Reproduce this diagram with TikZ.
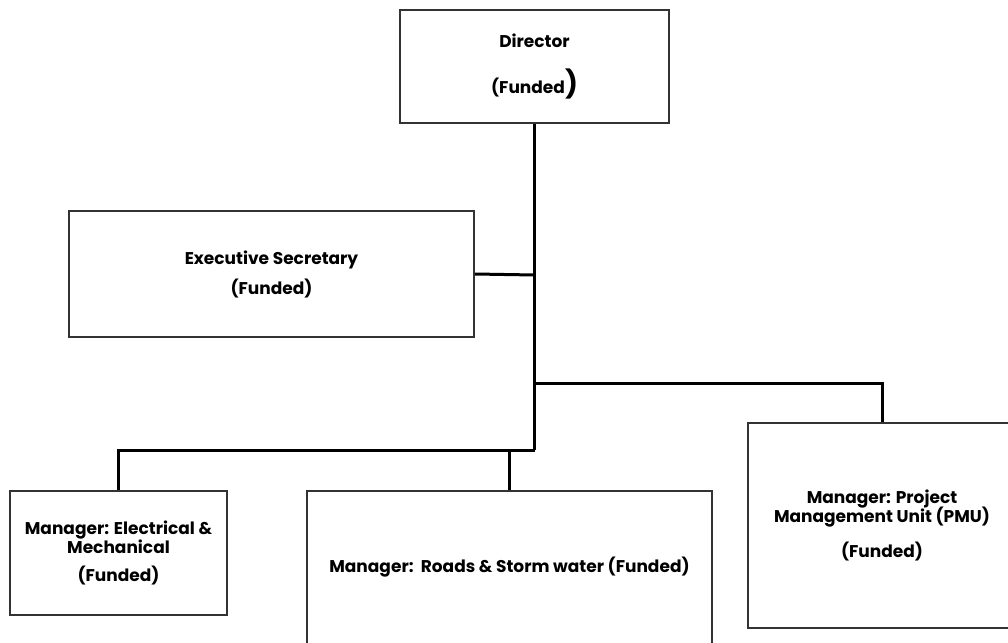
\documentclass[tikz,border=0pt]{standalone}
\usepackage{fontspec}
\setmainfont{Poppins}
\begin{document}
\begin{tikzpicture}[x=1pt,y=-1pt,
  post/.style={draw=black!80, line width=1.6pt, fill=white, rectangle,
    inner sep=0pt, align=center, font=\fontsize{17}{19}\selectfont\bfseries},
  wire/.style={draw=black, line width=3pt}]
\useasboundingbox (0,0) rectangle (1008,642);

% positions
\node[post, minimum width=269pt, minimum height=113pt] (dir) at (534.5,66.5)
  {Director\\[21pt](Funded{\fontsize{27}{27}\selectfont)}};
\node[post, minimum width=405pt, minimum height=126pt] (sec) at (271.5,274)
  {Executive Secretary\\[9pt](Funded)};
\node[post, minimum width=217pt, minimum height=124pt] (ele) at (118.5,553)
  {Manager: Electrical \&\\Mechanical\\[9pt](Funded)};
\node[post, minimum width=405pt, minimum height=153pt] (road) at (509.5,567.5)
  {Manager:\ \ Roads \& Storm water (Funded)};
\node[post, minimum width=268pt, minimum height=205pt] (pmu) at (882,525.5)
  {Manager: Project\\[-2pt]Management Unit (PMU)\\[14pt](Funded)};

% junctions on the spine
\coordinate (j1) at (534.5,275);
\coordinate (j2) at (534.5,383);
\coordinate (j3) at (534.5,450);

\draw[wire] (dir.south) -- (j3);
\draw[wire] (sec.east) -- (j1);
\draw[wire] (j2) -| (pmu.north);
\draw[wire] (j3) -| (ele.north);
\draw[wire] (road.north) -- (road.north |- j3);
\end{tikzpicture}
\end{document}
